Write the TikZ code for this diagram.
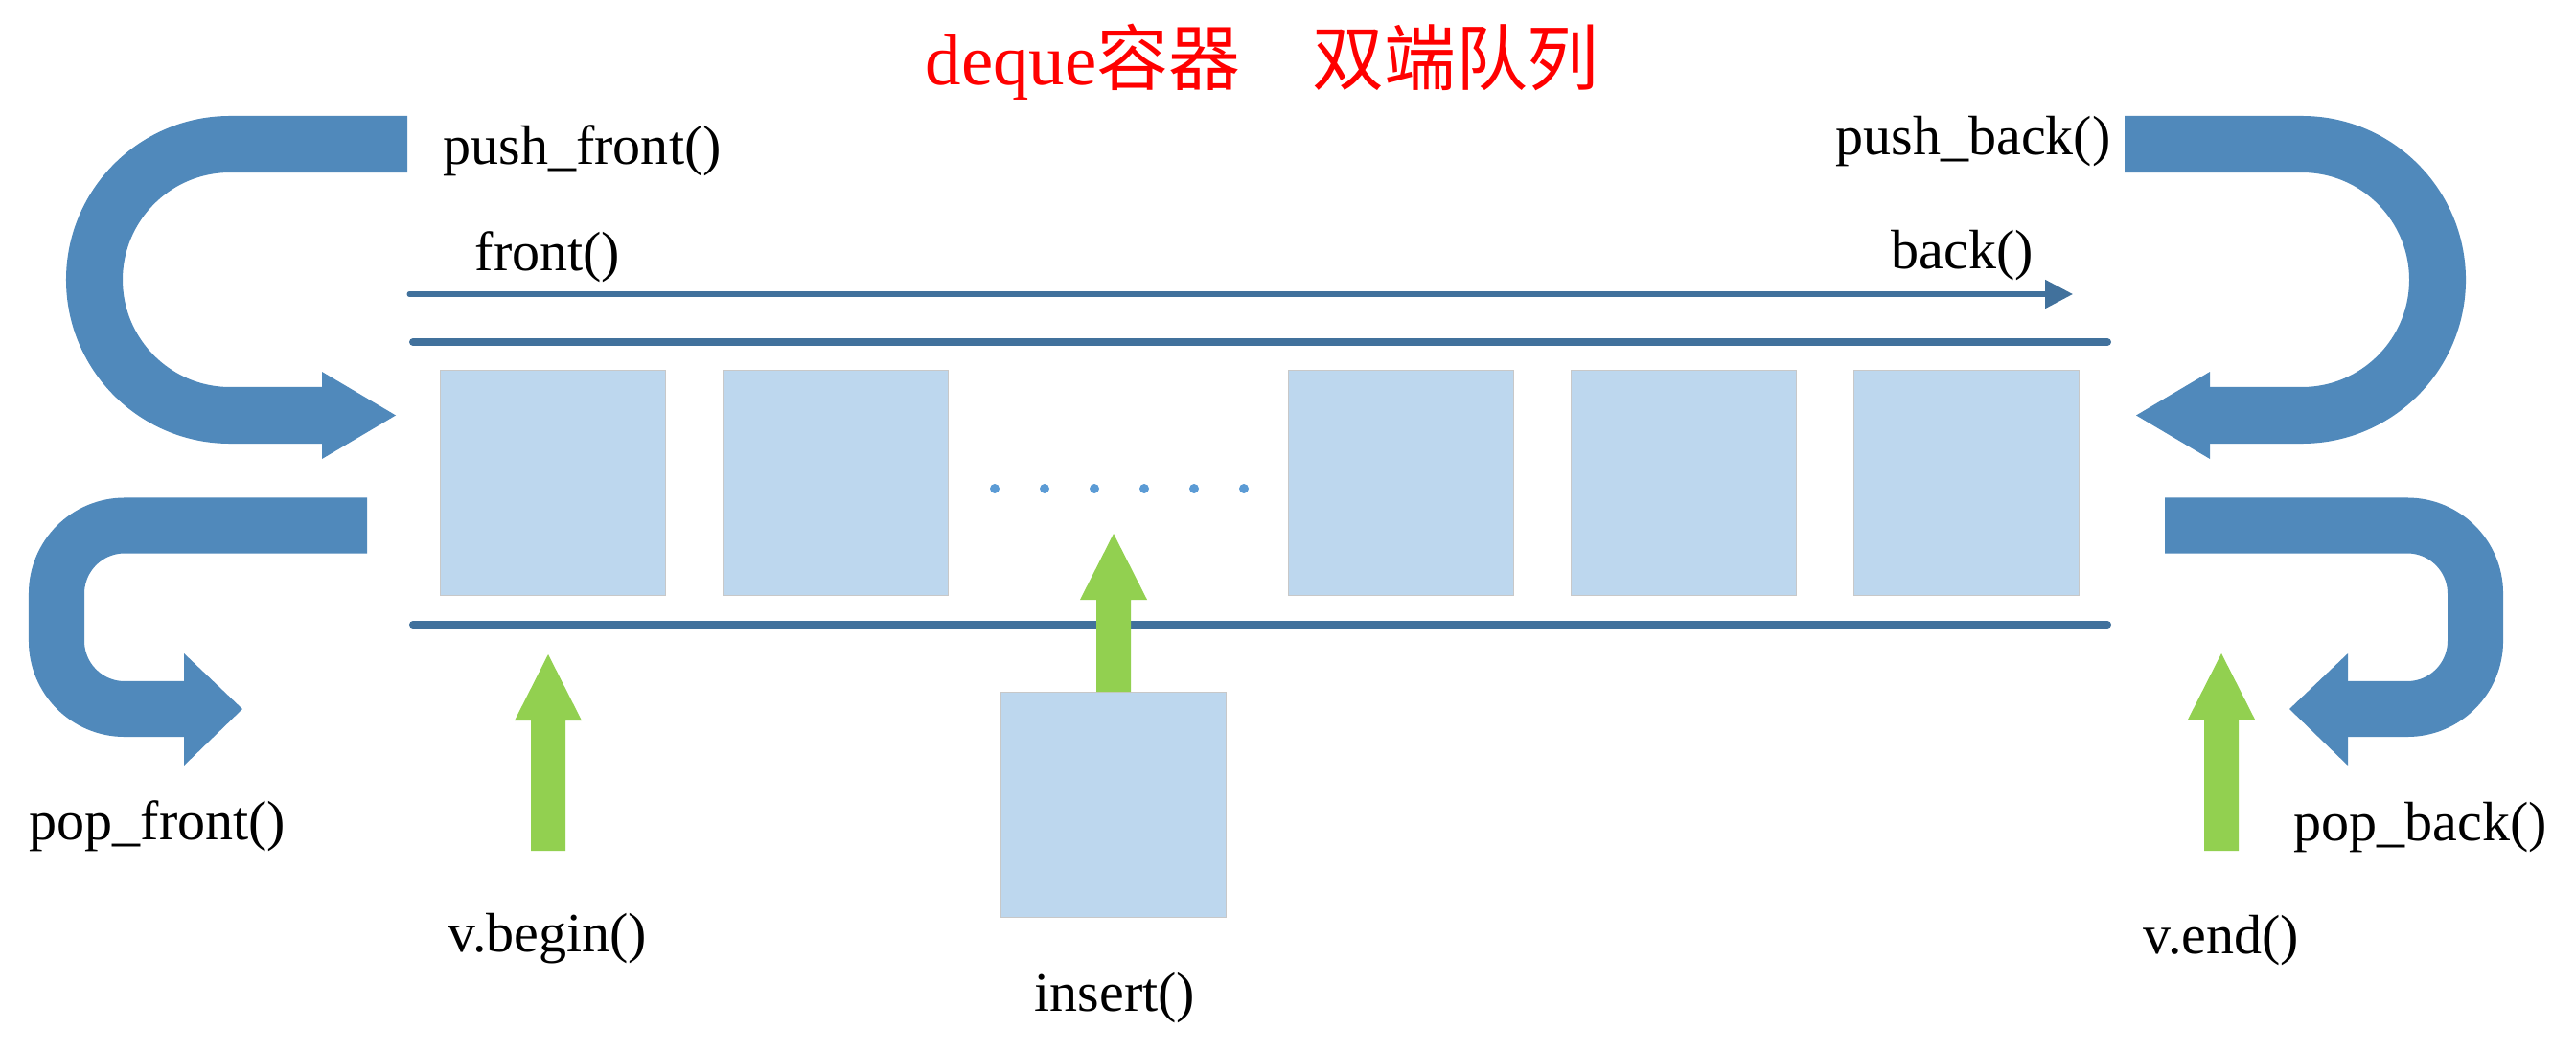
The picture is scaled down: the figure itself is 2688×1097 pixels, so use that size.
\documentclass[tikz,border=0pt]{standalone}
\usepackage{fontspec}
\setmainfont{Liberation Serif}
\newfontfamily\cjk{Noto Sans CJK SC}
\usetikzlibrary{arrows.meta,positioning}
\definecolor{bandblue}{RGB}{80,137,187}
\definecolor{railblue}{RGB}{65,113,156}
\definecolor{cellblue}{RGB}{189,215,238}
\definecolor{cellline}{RGB}{200,200,200}
\definecolor{dotblue}{RGB}{91,155,213}
\definecolor{grn}{RGB}{146,208,80}

\begin{document}
\begin{tikzpicture}[x=0.01cm,y=-0.01cm,>={Triangle[length=2.9mm,width=2.9mm]},
  cell/.style={rectangle,draw=cellline,line width=0.5pt,fill=cellblue,minimum size=23.5mm,inner sep=0pt},
  lbl/.style={anchor=base west,inner sep=0pt,font=\fontsize{16.5}{20}\selectfont},
  rail/.style={draw=railblue,line width=0.8mm,line cap=round},
  band/.style={draw=bandblue,line width=5.9mm},
  head/.style={fill=bandblue},
  up/.style={fill=grn}]
\useasboundingbox (0,0) rectangle (2688,1097);
\node[anchor=base west,inner sep=0pt,text=red,font=\fontsize{21.3}{26}\selectfont] (title) at (965,89) {deque{\cjk 容器}\quad{\cjk 双端队列}};
% the queue
\foreach \i/\x in {1/577,2/872,3/1462,4/1757,5/2052}
  \node[cell] (c\i) at (\x,504) {};
\foreach \i in {0,...,5}
  \fill[dotblue] (1038+52*\i,510) circle[radius=0.5mm];
\draw[rail] (431,357) -- (2199,357);
\draw[rail] (431,652) -- (2199,652);
\coordinate (fs) at (427,307);
\coordinate (fe) at (2163,307);
\draw[->,railblue,line width=0.5mm,line cap=round] (fs) -- (fe);
\node[cell] (ins) at (1162,840) {};
% push / pop
\draw[band,rounded corners=14.15mm] (425,150.5) -- (98.5,150.5) -- (98.5,433.5) -- (337,433.5);
\fill[head] (336,388) -- (413,433.5) -- (336,479) -- cycle;
\draw[band,rounded corners=14.15mm] (2217,150.5) -- (2543.5,150.5) -- (2543.5,433.5) -- (2305,433.5);
\fill[head] (2306,388) -- (2229,433.5) -- (2306,479) -- cycle;
\draw[band,line width=5.8mm,rounded corners=7.1mm] (383,548.5) -- (59,548.5) -- (59,740) -- (193,740);
\fill[head] (192,682) -- (253,740) -- (192,799) -- cycle;
\draw[band,line width=5.8mm,rounded corners=7.1mm] (2259,548.5) -- (2583,548.5) -- (2583,740) -- (2449,740);
\fill[head] (2450,682) -- (2389,740) -- (2450,799) -- cycle;
% iterators
\foreach \x/\t/\b in {572/683/888,1162/557/722,2318/682/888}
  \fill[up] (\x-18,\b) -- (\x-18,\t+69) -- (\x-35,\t+69) -- (\x,\t) -- (\x+35,\t+69) -- (\x+18,\t+69) -- (\x+18,\b) -- cycle;
\node[lbl] (pushf) at (462,172) {push\_front()};
\node[lbl] (front) at (495,282) {front()};
\node[lbl] (back) at (1973,280) {back()};
\node[lbl] (pushb) at (1915,162) {push\_back()};
\node[lbl] (popf) at (30,876) {pop\_front()};
\node[lbl] (popb) at (2393,877) {pop\_back()};
\node[lbl] (vbeg) at (467,993) {v.begin()};
\node[lbl] (vend) at (2236,995) {v.end()};
\node[lbl] (insl) at (1079,1055) {insert()};
\end{tikzpicture}
\end{document}
